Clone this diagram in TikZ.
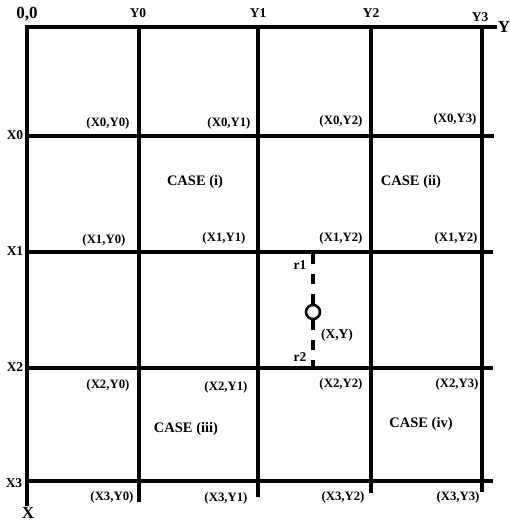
\documentclass[tikz,border=0pt]{standalone}
\usepackage{fontspec}
\setmainfont{Liberation Serif}
\usetikzlibrary{positioning}

\begin{document}
\begin{tikzpicture}[
    x=1pt,
    y=-1pt,
    font=\bfseries,
    gridline/.style={
        line width=3.4pt,
        line cap=rect
    },
    rline/.style={
        line width=3.2pt,
        dash pattern=on 10pt off 10pt
    },
    pointmark/.style={
        draw,
        circle,
        line width=2.6pt,
        minimum size=14pt,
        inner sep=0pt
    },
    cell/.style={
        inner sep=0pt,
        font=\bfseries\fontsize{12.8}{14}\selectfont
    },
    tick/.style={
        inner sep=0pt,
        font=\bfseries\fontsize{13.5}{15}\selectfont
    },
    axisname/.style={
        inner sep=0pt,
        font=\bfseries\fontsize{17}{19}\selectfont
    },
    casename/.style={
        inner sep=0pt,
        font=\bfseries\fontsize{14.5}{16}\selectfont
    }
]
\useasboundingbox (0,0) rectangle (509,529);

% =========================
% Grid lines
% =========================
\draw[gridline] (27,27) -- (495,27);
\draw[gridline] (27,27) -- (27,504);
\draw[gridline] (139,27) -- (139,500);
\draw[gridline] (258,27) -- (258,495);
\draw[gridline] (371,27) -- (371,491);
\draw[gridline] (482,27) -- (482,490);
\draw[gridline] (27,136) -- (492,136);
\draw[gridline] (27,252) -- (491,252);
\draw[gridline] (27,368) -- (491,368);
\draw[gridline] (27,481) -- (491,481);

% =========================
% Axis names and ticks
% =========================
\node[axisname] (origin) at (27,14) {0,0};
\node[axisname] (yaxis)  at (504,27) {Y};
\node[axisname] (xaxis)  at (28,513) {X};

\node[tick] (y0) at (138,13) {Y0};
\node[tick] (y1) at (258,13) {Y1};
\node[tick] (y2) at (371,13) {Y2};
\node[tick] (y3) at (480,17) {Y3};

\node[tick] (x0) at (15,135) {X0};
\node[tick] (x1) at (15,251) {X1};
\node[tick] (x2) at (15,367) {X2};
\node[tick] (x3) at (14,483) {X3};

% =========================
% Corner labels
% =========================
\node[cell] (c00) at (108,123) {(X0,Y0)};
\node[cell] (c01) at (229,123) {(X0,Y1)};
\node[cell] (c02) at (341,121) {(X0,Y2)};
\node[cell] (c03) at (455,119) {(X0,Y3)};

\node[cell] (c10) at (104,240) {(X1,Y0)};
\node[cell] (c11) at (224,238) {(X1,Y1)};
\node[cell] (c12) at (341,238) {(X1,Y2)};
\node[cell] (c13) at (456,238) {(X1,Y2)};

\node[cell] (c20) at (108,385) {(X2,Y0)};
\node[cell] (c21) at (226,387) {(X2,Y1)};
\node[cell] (c22) at (341,384) {(X2,Y2)};
\node[cell] (c23) at (457,384) {(X2,Y3)};

\node[cell] (c30) at (112,497) {(X3,Y0)};
\node[cell] (c31) at (226,498) {(X3,Y1)};
\node[cell] (c32) at (343,497) {(X3,Y2)};
\node[cell] (c33) at (458,497) {(X3,Y3)};

% =========================
% Cases
% =========================
\node[casename] (case1) at (195,182) {CASE (i)};
\node[casename] (case2) at (411,182) {CASE (ii)};
\node[casename] (case3) at (186,429) {CASE (iii)};
\node[casename] (case4) at (421,424) {CASE (iv)};

% =========================
% Point (X,Y) with r1 / r2
% =========================
\node[pointmark] (pt) at (313,312) {};
\coordinate (r1end) at (313,254);
\coordinate (r2end) at (313,367);
\draw[rline] (pt.north) -- (r1end);
\draw[rline] (pt.south) -- (r2end);

\node[tick] (r1) at (300,265) {r1};
\node[tick] (r2) at (300,357) {r2};
\node[tick] (ptlabel) at (337,335) {(X,Y)};

\end{tikzpicture}
\end{document}
